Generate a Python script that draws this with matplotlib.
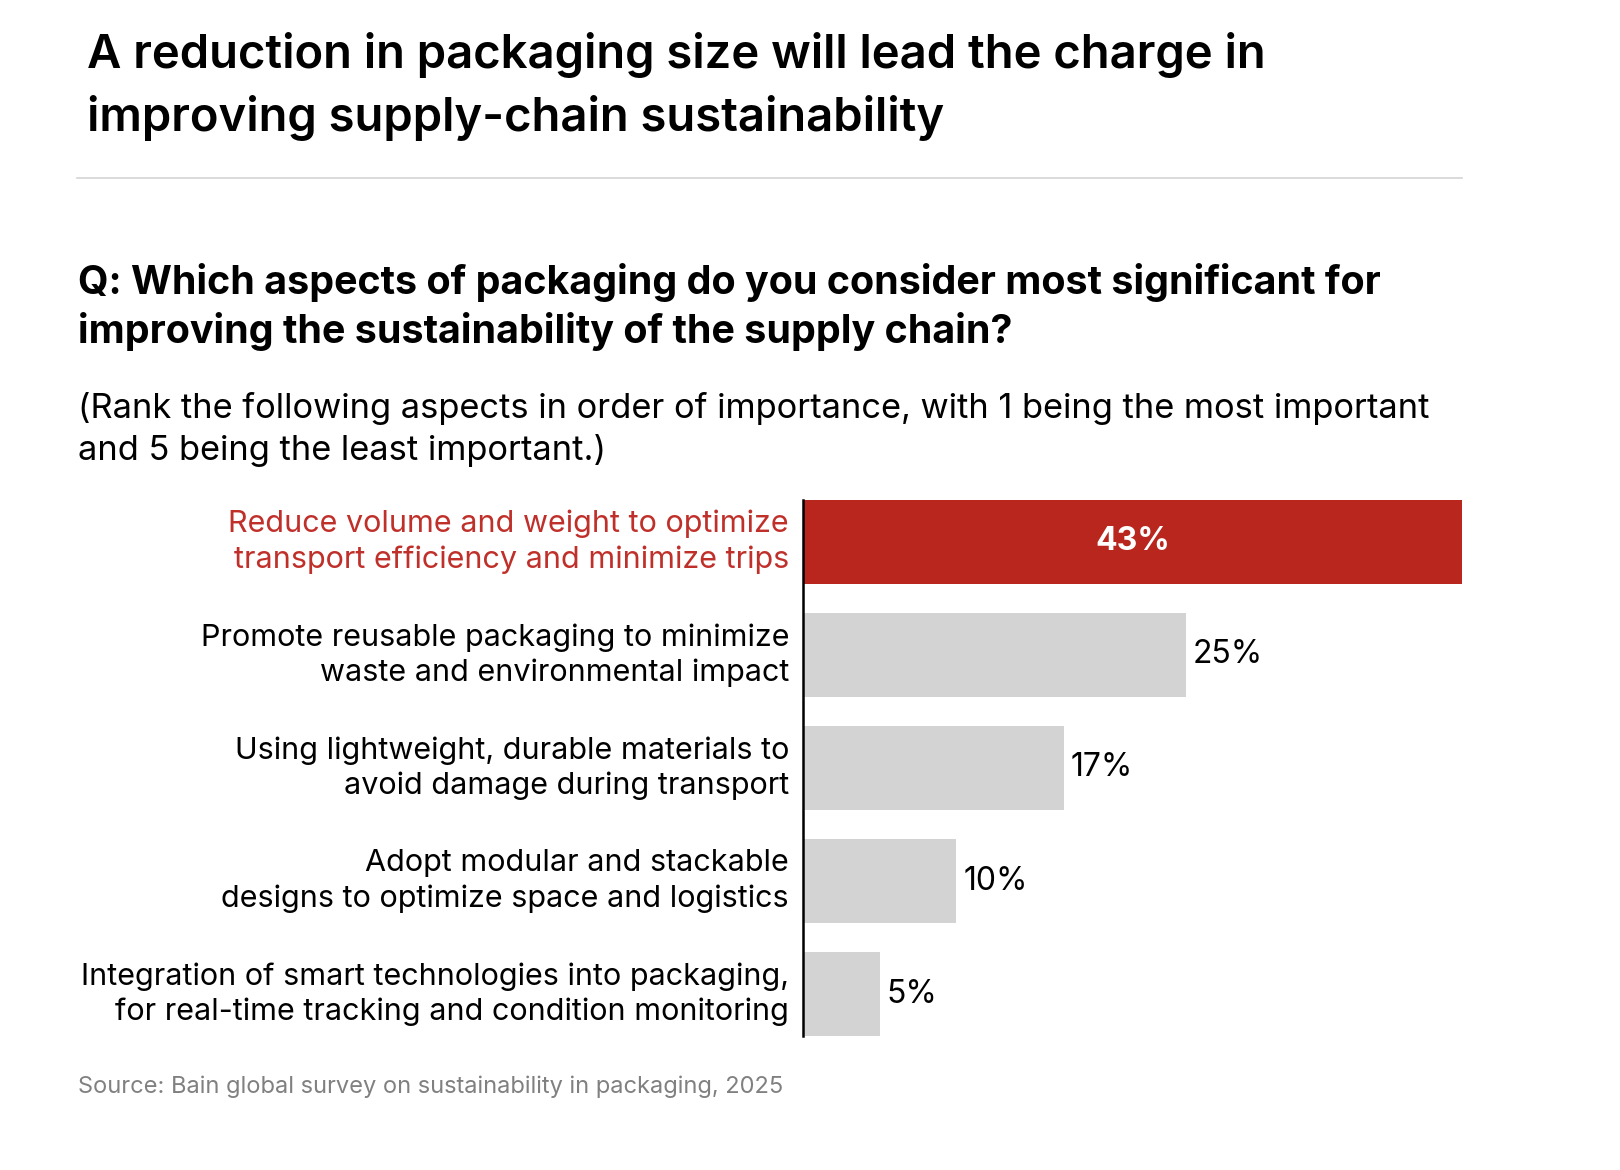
import matplotlib.pyplot as plt
from matplotlib.lines import Line2D

plt.rcParams['font.family'] = ['Inter', 'DejaVu Sans']

# data
categories = [
    'Reduce volume and weight to optimize\ntransport efficiency and minimize trips',
    'Promote reusable packaging to minimize\nwaste and environmental impact',
    'Using lightweight, durable materials to\navoid damage during transport',
    'Adopt modular and stackable\ndesigns to optimize space and logistics',
    'Integration of smart technologies into packaging,\nfor real-time tracking and condition monitoring',
]
values = [43, 25, 17, 10, 5]

title_lines = ['A reduction in packaging size will lead the charge in',
               'improving supply-chain sustainability']
question_lines = ['Q: Which aspects of packaging do you consider most significant for',
                  'improving the sustainability of the supply chain?']
note_lines = ['(Rank the following aspects in order of importance, with 1 being the most important',
              'and 5 being the least important.)']
source = 'Source: Bain global survey on sustainability in packaging, 2025'

RED = '#b8261e'
LABEL_RED = '#c0302a'
GREY = '#d3d3d3'

W, H = 1620, 1170
fig = plt.figure(figsize=(W / 100, H / 100), dpi=100)

def fy(px):
    return 1 - px / H

left = 78 / W

# headings
for line, y in zip(title_lines, [68, 131]):
    fig.text(87 / W, fy(y), line, fontsize=34, fontweight='semibold', va='baseline')
fig.add_artist(Line2D([77 / W, 1462 / W], [fy(178), fy(178)], color='#d4d4d4', lw=1.2))
for line, y in zip(question_lines, [294, 343]):
    fig.text(left, fy(y), line, fontsize=28.4, fontweight='bold', va='baseline')
for line, y in zip(note_lines, [418, 460]):
    fig.text(left, fy(y), line, fontsize=24.8, va='baseline')
fig.text(left, fy(1093), source, fontsize=17, color='#808080', va='baseline')

# bars
ax = fig.add_axes([803 / W, fy(1036), 659 / W, 536 / H])
pos = list(range(len(values)))
colors = [RED] + [GREY] * (len(values) - 1)
ax.barh(pos, values, height=0.74, color=colors)
ax.set_xlim(0, max(values))
ax.set_ylim(len(values) - 1 + 0.37, -0.37)

for i, (cat, v) in enumerate(zip(categories, values)):
    ax.annotate(cat, xy=(0, i), xytext=(-10, 0), textcoords='offset points',
                ha='right', va='center', fontsize=22, linespacing=1.3,
                color=LABEL_RED if i == 0 else 'black')
    if i == 0:
        ax.text(v / 2, i, f'{v}%', ha='center', va='center', fontsize=23,
                fontweight='bold', color='white')
    else:
        ax.annotate(f'{v}%', xy=(v, i), xytext=(5, 0), textcoords='offset points',
                    ha='left', va='center', fontsize=23)

for s in ['top', 'right', 'bottom']:
    ax.spines[s].set_visible(False)
ax.spines['left'].set_linewidth(1.8)
ax.set_xticks([])
ax.set_yticks([])

fig.savefig('out.png', dpi=100)
